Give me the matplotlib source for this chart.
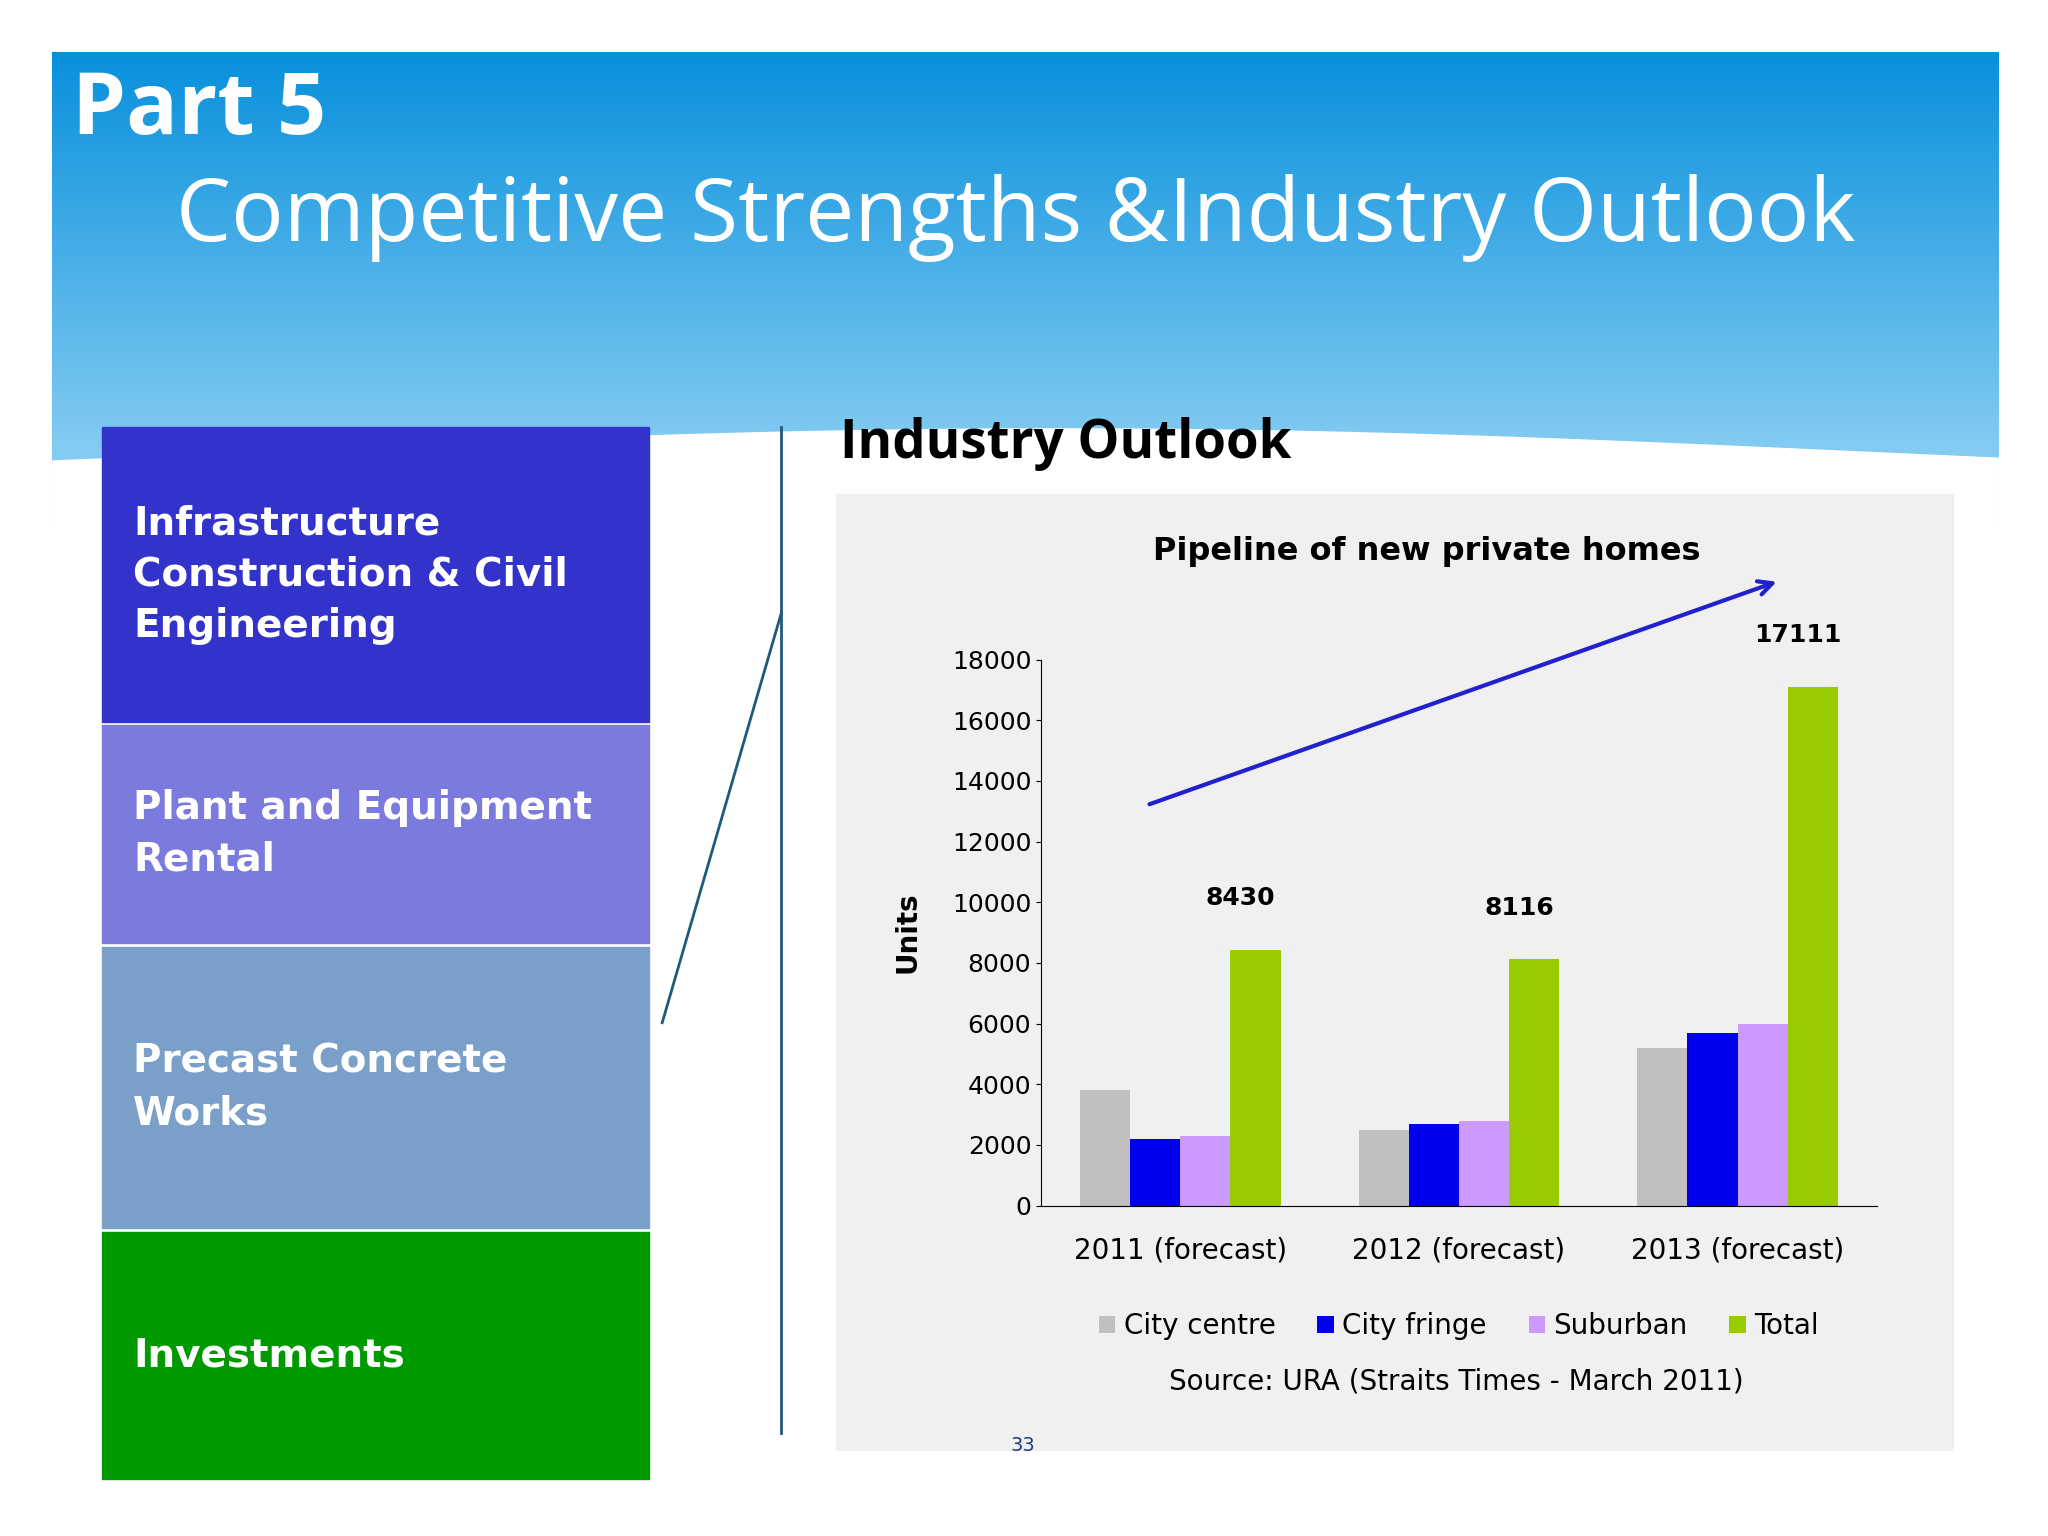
import numpy as np
import matplotlib.pyplot as plt
from matplotlib.patches import Rectangle
from matplotlib.colors import LinearSegmentedColormap

groups = ['2011 (forecast)', '2012 (forecast)', '2013 (forecast)']
city_centre = [3800, 2500, 5200]
city_fringe = [2200, 2700, 5700]
suburban = [2300, 2800, 6000]
total = [8430, 8116, 17111]
series_names = ['City centre', 'City fringe', 'Suburban', 'Total']
series_colors = ['#c0c0c0', '#0000ee', '#cc99ff', '#99cc00']
boxes = ['Infrastructure\nConstruction & Civil\nEngineering', 'Plant and Equipment\nRental',
         'Precast Concrete\nWorks', 'Investments']
box_colors = ['#3333cc', '#7b7bdd', '#7a9fc8', '#009900']

W, H = 1568, 1176
fig = plt.figure(figsize=(20.48, 15.36), dpi=100)

def fx(x): return x / W
def fy(y): return 1 - y / H

# header band with vertical gradient
bg = fig.add_axes([fx(40), fy(400), fx(1490), (400 - 40) / H])
grad = np.linspace(0, 1, 256).reshape(-1, 1)
cmap = LinearSegmentedColormap.from_list('h', ['#0890dc', '#9ad6f6'])
bg.imshow(grad, aspect='auto', cmap=cmap, extent=[0, 1, 0, 1], origin='upper')
xs = np.linspace(0, 1, 200)
wave = 0.15 + 0.05 * np.sin((xs - 0.1) * np.pi * 1.2)
bg.fill_between(xs, 0, wave, color='white')
bg.set_xlim(0, 1); bg.set_ylim(0, 1)
bg.axis('off')

fig.text(fx(55), fy(85), 'Part 5', color='white', fontsize=62, fontweight='bold', va='center',
         family='Open Sans')
fig.text(fx(135), fy(167), 'Competitive Strengths &Industry Outlook', color='white', fontsize=63,
         va='center', family='Open Sans')

# left boxes
edges = [(327, 553), (555, 722), (725, 940), (943, 1132)]
for (t, b), lab, c in zip(edges, boxes, box_colors):
    fig.patches.append(Rectangle((fx(78), fy(b)), fx(497 - 78), (b - t) / H, transform=fig.transFigure,
                                 color=c))
    fig.text(fx(102), fy((t + b) / 2), lab, color='white', fontsize=28, fontweight='bold', va='center',
             linespacing=1.45)

fig.add_artist(plt.Line2D([fx(598), fx(598)], [fy(327), fy(1097)], color='#1f5a7a', lw=2))
fig.add_artist(plt.Line2D([fx(598), fx(507)], [fy(470), fy(783)], color='#1f5a7a', lw=2))

fig.text(fx(643), fy(340), 'Industry Outlook', fontsize=38, fontweight='bold', va='center',
         family='Open Sans')

# chart panel
fig.patches.append(Rectangle((fx(640), fy(1110)), fx(1495 - 640), (1110 - 378) / H,
                             transform=fig.transFigure, color='#f0f0f0', zorder=0))
fig.text(fx(1092), fy(422), 'Pipeline of new private homes', fontsize=23, fontweight='bold',
         ha='center', va='center')

ax = fig.add_axes([fx(797), fy(923), fx(1437 - 797), (923 - 505) / H])
ax.set_zorder(5)
ax.set_facecolor('none')
x = np.arange(len(groups))
w = 0.18
allv = [city_centre, city_fringe, suburban, total]
for i, (v, c, n) in enumerate(zip(allv, series_colors, series_names)):
    ax.bar(x + (i - 1.5) * w, v, w, color=c, label=n)
for xi, t in zip(x, total):
    ax.text(xi + 1.2 * w, t + 1300, str(t), ha='center', va='bottom', fontsize=18, fontweight='bold')
ax.set_ylim(0, 18000)
ax.set_xlim(-0.5, 2.5)
ax.set_yticks(range(0, 18001, 2000))
ax.set_xticks(x)
ax.set_xticklabels(groups, fontsize=20)
ax.tick_params(axis='y', labelsize=18)
ax.tick_params(axis='x', length=0, pad=22)
for s in ['top', 'right']:
    ax.spines[s].set_visible(False)
ax.set_ylabel('Units', fontsize=20, fontweight='bold', labelpad=22)
ax.legend(loc='upper center', bbox_to_anchor=(0.5, -0.15), ncol=4, frameon=False, fontsize=20,
          handlelength=0.6, handleheight=0.6, handletextpad=0.3, columnspacing=1.5)
ax.annotate('', xy=(2.15, 20600), xytext=(-0.12, 13200), annotation_clip=False,
            arrowprops=dict(arrowstyle='->', color='#2020cc', lw=3, mutation_scale=25))

fig.text(fx(1115), fy(1058), 'Source: URA (Straits Times - March 2011)', fontsize=20, ha='center', va='center')
fig.text(fx(783), fy(1107), '33', fontsize=14, color='#1f3a8a', ha='center', va='center')

fig.savefig('out.png')
